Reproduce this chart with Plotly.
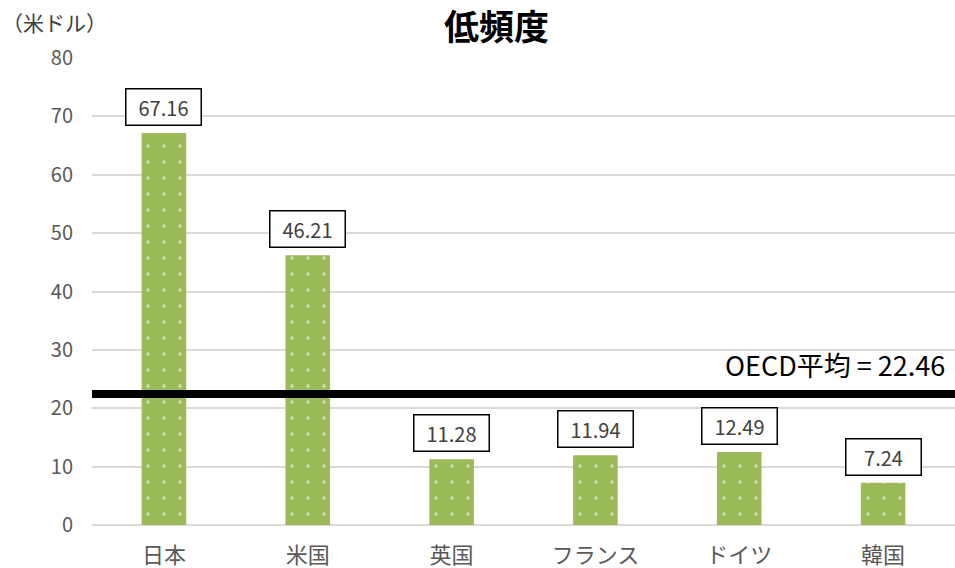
import plotly.graph_objects as go

countries = ["日本", "米国", "英国", "フランス", "ドイツ", "韓国"]
values = [67.16, 46.21, 11.28, 11.94, 12.49, 7.24]
oecd_avg = 22.46
y_ticks = [0, 10, 20, 30, 40, 50, 60, 70, 80]

FONT = "Noto Sans CJK JP"
GREEN = "#9BBB59"

fig = go.Figure()
fig.add_trace(go.Bar(
    x=countries,
    y=values,
    width=0.31,
    marker=dict(
        color=GREEN,
        line=dict(width=0),
        pattern=dict(shape=".", fgcolor="white", bgcolor=GREEN, size=16, solidity=0.04),
    ),
    hoverinfo="skip",
))

# boxed value labels above each bar
for c, v in zip(countries, values):
    fig.add_annotation(
        x=c, y=v, xref="x", yref="y",
        text=f"{v:.2f}", showarrow=False,
        yanchor="bottom", yshift=7,
        font=dict(family=FONT, size=20, color="#404040"),
        bgcolor="white", bordercolor="black", borderwidth=1.5,
        width=72, height=33,
    )

# OECD average line
fig.add_shape(type="line", xref="paper", yref="y", x0=0, x1=1,
              y0=oecd_avg, y1=oecd_avg, line=dict(color="black", width=8))
fig.add_annotation(
    x=1, y=oecd_avg, xref="paper", yref="y",
    text=f"OECD平均 = {oecd_avg:.2f}", showarrow=False,
    xanchor="right", yanchor="bottom", xshift=-8, yshift=8,
    font=dict(family=FONT, size=27, color="black"),
)

# unit label
fig.add_annotation(
    x=-0.1066, y=1.077, xref="paper", yref="paper", text="（米ドル）",
    xanchor="left", yanchor="middle", showarrow=False,
    font=dict(family=FONT, size=21, color="#404040"),
)

# chart title
fig.add_annotation(
    x=0.469, y=1.071, xref="paper", yref="paper", text="<b>低頻度</b>",
    xanchor="center", yanchor="middle", showarrow=False,
    font=dict(family=FONT, size=35, color="black"),
)

fig.update_layout(
    width=955, height=568,
    margin=dict(l=92, r=0, t=58, b=43),
    paper_bgcolor="white", plot_bgcolor="white",
    showlegend=False,
)
fig.update_xaxes(
    showgrid=False, showline=False, ticks="",
    tickfont=dict(family=FONT, size=22, color="#595959"),
    ticklabelstandoff=15,
    range=[-0.5, 5.5],
)
fig.update_yaxes(
    range=[0, 80], tickvals=y_ticks,
    showgrid=True, gridcolor="#D9D9D9", gridwidth=1.5,
    zeroline=True, zerolinecolor="#D9D9D9", zerolinewidth=1.5,
    tickfont=dict(family=FONT, size=20, color="#595959"),
    ticks="", ticklabelstandoff=18, automargin=False,
)

fig.write_html("out.html")
